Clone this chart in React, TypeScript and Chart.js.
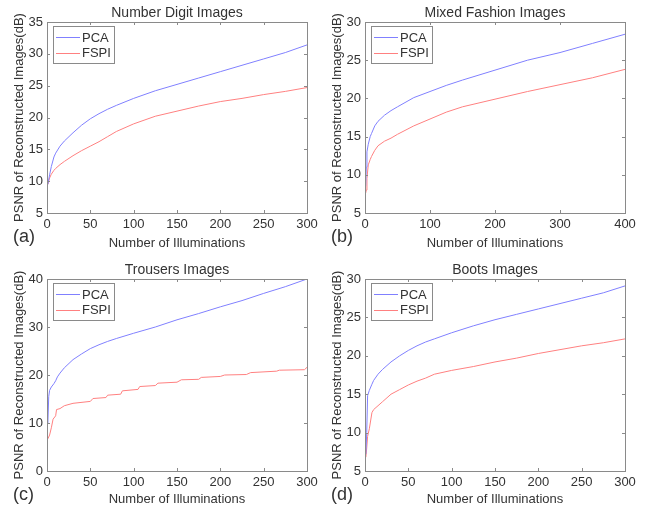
import React, { useEffect, useRef } from "react";
import { Chart, registerables } from "chart.js";

Chart.register(...registerables);

// ---------- Data ----------
const seriesNames = ["PCA", "FSPI"];
const panelTitles = ["Number Digit Images", "Mixed Fashion Images", "Trousers Images", "Boots Images"];
const panelLabels = ["(a)", "(b)", "(c)", "(d)"];
const xTitle = "Number of Illuminations";
const yTitle = "PSNR of Reconstructed Images(dB)";

// (a) Number Digit
const xA = [1, 3, 5, 8, 10, 15, 20, 30, 40, 50, 60, 70, 80, 100, 125, 150, 175, 200, 225, 250, 275, 300];
const pcaA = [9.5, 11, 12.3, 13.8, 14.4, 15.5, 16.3, 17.6, 18.8, 19.8, 20.6, 21.3, 21.9, 23, 24.2, 25.2, 26.2, 27.2, 28.2, 29.2, 30.2, 31.4];
const xFA = [1, 3, 5, 8, 10, 15, 20, 30, 40, 50, 60, 70, 80, 100, 125, 150, 175, 200, 225, 250, 275, 300];
const fspiA = [9.5, 10.5, 11.1, 11.7, 12, 12.6, 13.1, 14, 14.8, 15.5, 16.2, 17, 17.8, 19, 20.2, 21, 21.8, 22.5, 23, 23.6, 24.1, 24.7];

// (b) Mixed Fashion
const xB = [1, 2, 3, 5, 8, 10, 15, 20, 30, 40, 50, 75, 100, 125, 150, 200, 250, 300, 350, 400];
const pcaB = [8.5, 11, 13, 14, 15, 15.4, 16.4, 17, 17.8, 18.4, 18.9, 20.1, 20.9, 21.7, 22.4, 23.7, 25, 26, 27.2, 28.4];
const xFB = [1, 2, 3, 5, 8, 10, 15, 20, 30, 40, 50, 75, 100, 125, 150, 200, 250, 300, 350, 400];
const fspiB = [7.6, 8, 9.5, 11.3, 12, 12.4, 13.2, 13.8, 14.4, 14.8, 15.3, 16.4, 17.3, 18.2, 18.9, 19.9, 20.9, 21.8, 22.7, 23.8];

// (c) Trousers
const xC = [1, 2, 3, 5, 8, 10, 12, 15, 20, 30, 40, 50, 60, 70, 80, 100, 125, 150, 175, 200, 225, 250, 275, 300];
const pcaC = [10, 15.5, 16.8, 17.5, 18.2, 18.8, 19.6, 20.4, 21.5, 23.2, 24.4, 25.5, 26.3, 27, 27.6, 28.7, 30, 31.5, 32.8, 34.2, 35.5, 37, 38.4, 40];
const xFC = [1, 3, 5, 7, 10, 11, 15, 20, 30, 50, 53, 68, 70, 85, 87, 105, 107, 125, 128, 150, 155, 175, 178, 200, 205, 230, 235, 265, 268, 297, 300];
const fspiC = [6.7, 7.5, 9, 10.8, 11.5, 12.8, 13, 13.6, 14.1, 14.5, 15.1, 15.3, 15.8, 16, 16.7, 17, 17.6, 17.8, 18.3, 18.5, 19, 19.1, 19.5, 19.7, 20, 20.1, 20.5, 20.8, 21, 21.1, 21.6];

// (d) Boots
const xD = [1, 2, 3, 5, 8, 10, 15, 20, 30, 40, 50, 60, 70, 80, 100, 125, 150, 175, 200, 225, 250, 275, 300];
const pcaD = [7.2, 10, 14.8, 15.5, 16.3, 16.8, 17.6, 18.2, 19.2, 20, 20.7, 21.3, 21.8, 22.2, 23, 23.9, 24.7, 25.4, 26.1, 26.8, 27.5, 28.2, 29.1];
const xFD = [1, 2, 3, 5, 8, 10, 15, 20, 30, 40, 50, 60, 70, 80, 100, 125, 150, 175, 200, 225, 250, 275, 300];
const fspiD = [6.8, 8, 9.5, 10.5, 12.6, 13, 13.5, 14, 15, 15.6, 16.2, 16.7, 17.1, 17.6, 18.1, 18.6, 19.2, 19.7, 20.3, 20.8, 21.3, 21.7, 22.2];

// axis ranges [xMax, xStep, yMin, yMax, yStep]
const xMaxes = [300, 400, 300, 300];
const xSteps = [50, 100, 50, 50];
const yMins = [5, 5, 0, 5];
const yMaxes = [35, 30, 40, 30];
const ySteps = [5, 5, 10, 5];

const pcaX = [xA, xB, xC, xD];
const pcaY = [pcaA, pcaB, pcaC, pcaD];
const fspiX = [xFA, xFB, xFC, xFD];
const fspiY = [fspiA, fspiB, fspiC, fspiD];

// ---------- Style ----------
const FONT = "'Liberation Sans', Arial, Helvetica, sans-serif";
const TEXT = "#333333";
const AXIS = "#8a8a8a";
const BLUE = "#8080ff";
const RED = "#ff8080";

const layouts = [
  { left: 0, top: 0, w: 324, h: 256, padTop: 22, padRight: 17, xH: 43 },
  { left: 318, top: 0, w: 331, h: 256, padTop: 22, padRight: 24, xH: 43 },
  { left: 0, top: 256, w: 324, h: 256, padTop: 23, padRight: 17, xH: 41 },
  { left: 318, top: 256, w: 331, h: 256, padTop: 23, padRight: 24, xH: 41 },
];

const decorPlugin = {
  id: "decor",
  afterDraw(chart: any, _args: any, opts: any) {
    const { ctx, chartArea: a, scales } = chart;
    ctx.save();
    // box
    ctx.strokeStyle = AXIS;
    ctx.lineWidth = 1;
    ctx.strokeRect(Math.round(a.left) + 0.5, Math.round(a.top) + 0.5, Math.round(a.right - a.left), Math.round(a.bottom - a.top));
    // inward ticks
    const tl = 3;
    ctx.beginPath();
    scales.x.ticks.forEach((t: any) => {
      const px = Math.round(scales.x.getPixelForValue(t.value)) + 0.5;
      ctx.moveTo(px, a.bottom);
      ctx.lineTo(px, a.bottom - tl);
      ctx.moveTo(px, a.top);
      ctx.lineTo(px, a.top + tl);
    });
    scales.y.ticks.forEach((t: any) => {
      const py = Math.round(scales.y.getPixelForValue(t.value)) + 0.5;
      ctx.moveTo(a.left, py);
      ctx.lineTo(a.left + tl, py);
      ctx.moveTo(a.right, py);
      ctx.lineTo(a.right - tl, py);
    });
    ctx.stroke();

    // title
    ctx.fillStyle = TEXT;
    ctx.font = `14px ${FONT}`;
    ctx.textAlign = "center";
    ctx.textBaseline = "alphabetic";
    ctx.fillText(opts.title, (a.left + a.right) / 2, a.top - 5);

    // panel label
    ctx.font = `18px ${FONT}`;
    ctx.textAlign = "left";
    ctx.textBaseline = "middle";
    ctx.fillText(opts.label, a.left - 34, a.bottom + 24);

    // legend
    const lx = a.left + 6;
    const ly = a.top + 4;
    const lw = 61;
    const lh = 37;
    ctx.fillStyle = "#ffffff";
    ctx.fillRect(lx, ly, lw, lh);
    ctx.strokeStyle = AXIS;
    ctx.strokeRect(Math.round(lx) + 0.5, Math.round(ly) + 0.5, lw, lh);
    const rows = [
      { name: seriesNames[0], color: BLUE, y: ly + 11 },
      { name: seriesNames[1], color: RED, y: ly + 26.5 },
    ];
    ctx.font = `13px ${FONT}`;
    ctx.textBaseline = "middle";
    rows.forEach((r) => {
      ctx.strokeStyle = r.color;
      ctx.beginPath();
      ctx.moveTo(lx + 3, Math.round(r.y) + 0.5);
      ctx.lineTo(lx + 27, Math.round(r.y) + 0.5);
      ctx.stroke();
      ctx.fillStyle = TEXT;
      ctx.fillText(r.name, lx + 29, r.y + 1);
    });
    ctx.restore();
  },
};

function Panel({ idx }: { idx: number }) {
  const ref = useRef<HTMLCanvasElement>(null);
  const L = layouts[idx];
  useEffect(() => {
    if (!ref.current) return;
    const pcaData = pcaX[idx].map((x, i) => ({ x, y: pcaY[idx][i] }));
    const fspiData = fspiX[idx].map((x, i) => ({ x, y: fspiY[idx][i] }));
    const chart = new Chart(ref.current, {
      type: "line",
      data: {
        datasets: [
          { label: seriesNames[0], data: pcaData, borderColor: BLUE, borderWidth: 1, pointRadius: 0, tension: 0 },
          { label: seriesNames[1], data: fspiData, borderColor: RED, borderWidth: 1, pointRadius: 0, tension: 0 },
        ],
      },
      options: {
        responsive: false,
        animation: false,
        devicePixelRatio: 1,
        layout: { padding: { top: L.padTop, right: L.padRight, left: 0, bottom: 0 } },
        plugins: {
          legend: { display: false },
          tooltip: { enabled: false },
          title: { display: false },
          decor: { title: panelTitles[idx], label: panelLabels[idx] },
        } as any,
        scales: {
          x: {
            type: "linear",
            min: 0,
            max: xMaxes[idx],
            grid: { display: false, drawTicks: false },
            border: { display: false },
            ticks: { stepSize: xSteps[idx], color: TEXT, font: { size: 13, family: FONT }, padding: 4, maxRotation: 0 },
            title: { display: true, text: xTitle, color: TEXT, font: { size: 13, family: FONT }, padding: { top: 0, bottom: 5 } },
            afterFit: (s: any) => { s.height = L.xH; },
          },
          y: {
            type: "linear",
            min: yMins[idx],
            max: yMaxes[idx],
            grid: { display: false, drawTicks: false },
            border: { display: false },
            ticks: { stepSize: ySteps[idx], color: TEXT, font: { size: 13, family: FONT }, padding: 4 },
            title: { display: true, text: yTitle, color: TEXT, font: { size: 13, family: FONT }, padding: { top: 12, bottom: 0 } },
            afterFit: (s: any) => { s.width = 47; },
          },
        },
      },
      plugins: [decorPlugin],
    } as any);
    return () => chart.destroy();
  }, [idx]);
  return (
    <canvas
      ref={ref}
      width={L.w}
      height={L.h}
      style={{ position: "absolute", left: L.left, top: L.top, width: L.w, height: L.h }}
    />
  );
}

export default function App() {
  return (
    <div style={{ position: "absolute", left: 0, top: 0, width: 649, height: 512, background: "#ffffff", overflow: "hidden" }}>
      {[0, 1, 2, 3].map((i) => (
        <Panel key={i} idx={i} />
      ))}
    </div>
  );
}
